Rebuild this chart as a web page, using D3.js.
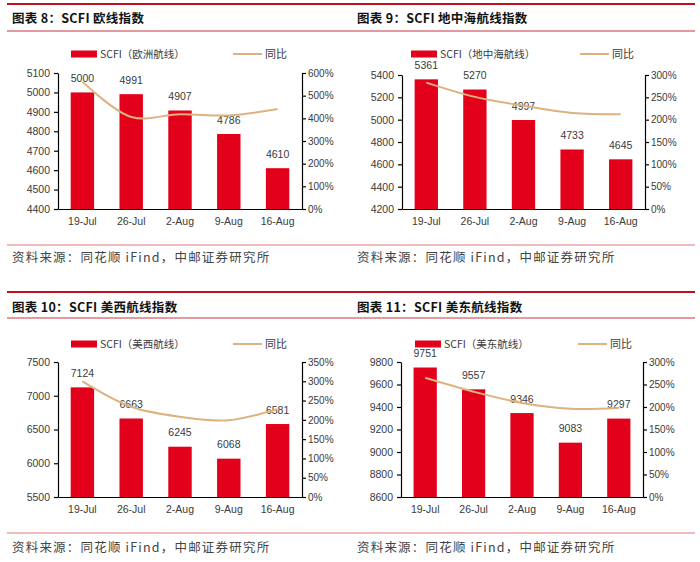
<!DOCTYPE html>
<html>
<head>
<meta charset="utf-8">
<script src="https://cdn.jsdelivr.net/npm/d3@7"></script>
<style>
  html, body { margin: 0; padding: 0; background: #fff; }
  svg { display: block; }
</style>
</head>
<body>
<svg id="chart" width="700" height="562"></svg>
<script>
// ---------- data ----------
const categories = ["19-Jul", "26-Jul", "2-Aug", "9-Aug", "16-Aug"];

const euTitle = "图表 8：SCFI 欧线指数";
const euLegend = "SCFI（欧洲航线）";
const euValues = [5000, 4991, 4907, 4786, 4610];
const euYoy = [562, 406, 418, 413, 441];
const euTicks = [4400, 4500, 4600, 4700, 4800, 4900, 5000, 5100];
const euPctTicks = [0, 100, 200, 300, 400, 500, 600];

const medTitle = "图表 9：SCFI 地中海航线指数";
const medLegend = "SCFI（地中海航线）";
const medValues = [5361, 5270, 4997, 4733, 4645];
const medYoy = [283, 251, 231, 215, 212];
const medTicks = [4200, 4400, 4600, 4800, 5000, 5200, 5400];
const medPctTicks = [0, 50, 100, 150, 200, 250, 300];

const uswTitle = "图表 10：SCFI 美西航线指数";
const uswLegend = "SCFI（美西航线）";
const uswValues = [7124, 6663, 6245, 6068, 6581];
const uswYoy = [300, 234, 208, 199, 228];
const uswTicks = [5500, 6000, 6500, 7000, 7500];
const uswPctTicks = [0, 50, 100, 150, 200, 250, 300, 350];

const useTitle = "图表 11：SCFI 美东航线指数";
const useLegend = "SCFI（美东航线）";
const useValues = [9751, 9557, 9346, 9083, 9297];
const useYoy = [265, 234, 209, 196, 198];
const useTicks = [8600, 8800, 9000, 9200, 9400, 9600, 9800];
const usePctTicks = [0, 50, 100, 150, 200, 250, 300];

const lineLegend = "同比";
const sourceText = "资料来源：同花顺 iFind，中邮证券研究所";

// ---------- layout ----------
const panels = [
  { title: euTitle, legend: euLegend, values: euValues, yoy: euYoy, ticks: euTicks, pct: euPctTicks,
    ox: 0, L: 58, R: 302, top: 73, bottom: 209, titleY: 18, legendY: 54, legX: 71, lineLegX: 233, srcY: 257 },
  { title: medTitle, legend: medLegend, values: medValues, yoy: medYoy, ticks: medTicks, pct: medPctTicks,
    ox: 345, L: 402, R: 645, top: 75, bottom: 209, titleY: 18, legendY: 54, legX: 411, lineLegX: 580, srcY: 257 },
  { title: uswTitle, legend: uswLegend, values: uswValues, yoy: uswYoy, ticks: uswTicks, pct: uswPctTicks,
    ox: 0, L: 58, R: 302, top: 362, bottom: 497, titleY: 307, legendY: 344, legX: 71, lineLegX: 233, srcY: 547 },
  { title: useTitle, legend: useLegend, values: useValues, yoy: useYoy, ticks: useTicks, pct: usePctTicks,
    ox: 345, L: 401, R: 643, top: 362, bottom: 497, titleY: 307, legendY: 344, legX: 415, lineLegX: 578, srcY: 547 }
];

const barColor = "#E2001A";
const lineColor = "#DDB27E";
const axisText = "#3a3a3a";
const cjk = "'Noto Sans CJK SC', 'Noto Sans', sans-serif";
const latin = "'Liberation Sans', Arial, sans-serif";

const svg = d3.select("#chart");

// header / footer rules (full width)
[4, 292].forEach(y => svg.append("line").attr("x1", 7).attr("x2", 695).attr("y1", y).attr("y2", y)
  .attr("stroke", "#C0101E").attr("stroke-width", 2));
[31, 318].forEach(y => svg.append("line").attr("x1", 7).attr("x2", 695).attr("y1", y).attr("y2", y)
  .attr("stroke", "#C8363F").attr("stroke-width", 1));
[245, 533].forEach(y => svg.append("line").attr("x1", 7).attr("x2", 695).attr("y1", y).attr("y2", y)
  .attr("stroke", "#E8A3A6").attr("stroke-width", 1.5));

panels.forEach(p => {
  const g = svg.append("g");
  const tx = p.ox + 12;

  // title
  g.append("text").attr("x", tx).attr("y", p.titleY).attr("dy", "0.36em")
    .attr("font-family", cjk).attr("font-weight", "bold").attr("font-size", 12.5)
    .attr("fill", "#111").attr("letter-spacing", 0.3).text(p.title);

  // source
  g.append("text").attr("x", tx).attr("y", p.srcY).attr("dy", "0.36em")
    .attr("font-family", cjk).attr("font-size", 12.5).attr("fill", "#444")
    .attr("letter-spacing", 1.2).text(sourceText);

  // scales
  const x = d3.scaleBand().domain(categories).range([p.L, p.R]).paddingInner(0.52).paddingOuter(0.26);
  const y = d3.scaleLinear().domain([p.ticks[0], p.ticks[p.ticks.length - 1]]).range([p.bottom, p.top]);
  const yR = d3.scaleLinear().domain([p.pct[0], p.pct[p.pct.length - 1]]).range([p.bottom, p.top]);
  const cx = c => x(c) + x.bandwidth() / 2;

  // bars
  g.selectAll("rect.bar").data(p.values).enter().append("rect")
    .attr("x", (d, i) => x(categories[i]))
    .attr("width", x.bandwidth())
    .attr("y", d => y(d))
    .attr("height", d => p.bottom - y(d))
    .attr("fill", barColor);

  // axes
  const la = g.append("g").attr("transform", `translate(${p.L},0)`)
    .call(d3.axisLeft(y).tickValues(p.ticks).tickSize(4).tickSizeOuter(0).tickPadding(4).tickFormat(d3.format("d")));
  const ra = g.append("g").attr("transform", `translate(${p.R},0)`)
    .call(d3.axisRight(yR).tickValues(p.pct).tickSize(4).tickSizeOuter(0).tickPadding(2).tickFormat(d => d + "%"));
  const ba = g.append("g").attr("transform", `translate(0,${p.bottom})`)
    .call(d3.axisBottom(x).tickSize(0).tickSizeOuter(0).tickPadding(9));
  [la, ra, ba].forEach(a => {
    a.selectAll("path, line").attr("stroke", "#000").attr("stroke-width", 1.2);
    a.selectAll("text").attr("font-family", latin).attr("font-size", 10.5).attr("fill", axisText);
  });
  ra.selectAll("text").attr("font-size", 10);

  // value labels
  g.selectAll("text.val").data(p.values).enter().append("text")
    .attr("x", (d, i) => cx(categories[i]))
    .attr("y", d => y(d) - 10.5)
    .attr("text-anchor", "middle")
    .attr("font-family", latin).attr("font-size", 10.5).attr("fill", axisText)
    .text(d => d);

  // yoy line
  const line = d3.line().x((d, i) => cx(categories[i])).y(d => yR(d)).curve(d3.curveCatmullRom.alpha(0.5));
  g.append("path").datum(p.yoy).attr("d", line).attr("fill", "none")
    .attr("stroke", lineColor).attr("stroke-width", 2);

  // legend
  g.append("rect").attr("x", p.legX).attr("y", p.legendY - 3.5).attr("width", 26).attr("height", 7).attr("fill", barColor);
  g.append("text").attr("x", p.legX + 29).attr("y", p.legendY).attr("dy", "0.36em")
    .attr("font-family", cjk).attr("font-size", 10.5).attr("fill", axisText).text(p.legend);
  g.append("line").attr("x1", p.lineLegX).attr("x2", p.lineLegX + 29).attr("y1", p.legendY).attr("y2", p.legendY)
    .attr("stroke", lineColor).attr("stroke-width", 2);
  g.append("text").attr("x", p.lineLegX + 32).attr("y", p.legendY).attr("dy", "0.36em")
    .attr("font-family", cjk).attr("font-size", 11).attr("fill", axisText).text(lineLegend);
});
</script>
</body>
</html>
